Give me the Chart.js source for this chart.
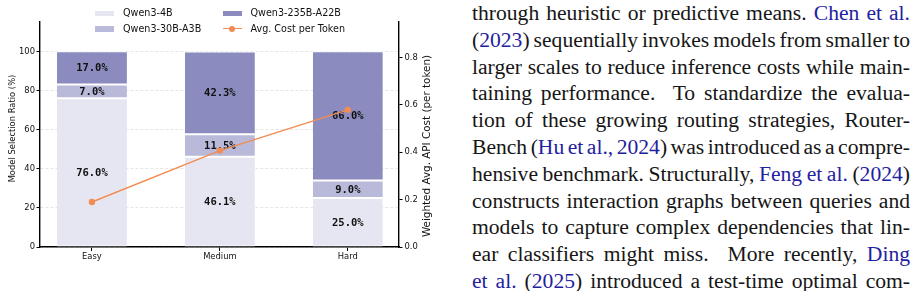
<!DOCTYPE html>
<html><head><meta charset="utf-8">
<script src="https://cdn.jsdelivr.net/npm/chart.js@4"></script>
<style>
html,body{margin:0;padding:0;background:#fff;}
#wrap{position:relative;width:917px;height:291px;overflow:hidden;background:#fff;}
#chartBox{position:absolute;left:0;top:0;width:440px;height:291px;}
#legend{position:absolute;left:0;top:0;width:440px;height:40px;font-family:"DejaVu Sans",sans-serif;font-size:9.6px;color:#111;}
.li{position:absolute;height:12px;line-height:12px;white-space:nowrap;}
.sw{position:absolute;left:0;top:3.5px;width:19px;height:5.5px;}
.ln{position:absolute;left:0;top:5.5px;width:19px;height:1.4px;}
.dot{position:absolute;left:6.5px;top:3px;width:6px;height:6px;border-radius:50%;}
.lt{position:absolute;left:28px;top:0;}
#text{position:absolute;left:472px;top:0px;width:438px;font-family:"Liberation Serif","Times New Roman",serif;font-size:21.6px;line-height:26.8px;color:#161616;}
#text div{white-space:nowrap;height:26.8px;}
#text div span.w{display:inline-block;white-space:nowrap;}
.c{color:#1f22a0;}
</style>
</head><body>
<div id="wrap">
  <div id="chartBox"><canvas id="c" width="440" height="291"></canvas></div>
  <div id="legend"></div>
  <div id="text">
    <div>through heuristic or predictive means. <span class="c">Chen et al.</span></div>
    <div>(<span class="c">2023</span>) sequentially invokes models from smaller to</div>
    <div>larger scales to reduce inference costs while main-</div>
    <div>taining performance.&nbsp; To standardize the evalua-</div>
    <div>tion of these growing routing strategies, Router-</div>
    <div>Bench (<span class="c">Hu et al., 2024</span>) was introduced as a compre-</div>
    <div>hensive benchmark. Structurally, <span class="c">Feng et al.</span> (<span class="c">2024</span>)</div>
    <div>constructs interaction graphs between queries and</div>
    <div>models to capture complex dependencies that lin-</div>
    <div>ear classifiers might miss.&nbsp; More recently, <span class="c">Ding</span></div>
    <div><span class="c">et al.</span> (<span class="c">2025</span>) introduced a test-time optimal com-</div>
  </div>
</div>
<script>
const categories = ['Easy', 'Medium', 'Hard'];
const qwen4b = [76.0, 46.1, 25.0];
const qwen30b = [7.0, 11.5, 9.0];
const qwen235b = [17.0, 42.3, 66.0];
const avgCost = [0.19, 0.407, 0.579];
const leftTicks = [0, 20, 40, 60, 80, 100];
const rightTicks = [0.0, 0.2, 0.4, 0.6, 0.8];
const seriesNames = ['Qwen3-4B', 'Qwen3-30B-A3B', 'Qwen3-235B-A22B', 'Avg. Cost per Token'];
const leftTitle = 'Model Selection Ratio (%)';
const rightTitle = 'Weighted Avg. API Cost (per token)';

const colors = ['#e6e6f2', '#b9b9da', '#8b8bbf'];
const lineColor = '#f28c52';
const FONT = '"DejaVu Sans", sans-serif';

// justify each text line to the column width by adjusting word spacing
(function justify() {
  const W = 438;
  document.querySelectorAll('#text div').forEach(div => {
    const range = document.createRange();
    range.selectNodeContents(div);
    const w = range.getBoundingClientRect().width;
    const spaces = (div.textContent.match(/[ \u00a0]/g) || []).length;
    if (spaces > 0) div.style.wordSpacing = ((W - w) / spaces) + 'px';
  });
})();

// HTML legend (two columns)
const legendLayout = [
  {name: seriesNames[0], left: 95, top: 7, kind: 'bar', color: colors[0]},
  {name: seriesNames[1], left: 95, top: 22.5, kind: 'bar', color: colors[1]},
  {name: seriesNames[2], left: 222.5, top: 7, kind: 'bar', color: colors[2]},
  {name: seriesNames[3], left: 222.5, top: 22.5, kind: 'line', color: lineColor}
];
const lg = document.getElementById('legend');
legendLayout.forEach(it => {
  const d = document.createElement('div');
  d.className = 'li';
  d.style.left = it.left + 'px';
  d.style.top = it.top + 'px';
  if (it.kind === 'bar') {
    d.innerHTML = '<span class="sw" style="background:' + it.color + '"></span>';
  } else {
    d.innerHTML = '<span class="ln" style="background:' + it.color + '"></span><span class="dot" style="background:' + it.color + '"></span>';
  }
  const t = document.createElement('span');
  t.className = 'lt';
  t.textContent = it.name;
  d.appendChild(t);
  lg.appendChild(d);
});

const toXY = arr => arr.map((v, i) => ({x: i, y: v}));
const barSets = [qwen4b, qwen30b, qwen235b];

const labelPlugin = {
  id: 'barLabels',
  beforeDatasetDraw(chart, args) {
    if (args.index !== 0) return;
    const ctx = chart.ctx;
    ctx.save();
    ctx.font = 'bold 10.5px "DejaVu Sans Mono", monospace';
    ctx.fillStyle = '#111';
    ctx.textAlign = 'center';
    ctx.textBaseline = 'middle';
    for (let d = 1; d <= 3; d++) {
      const meta = chart.getDatasetMeta(d);
      meta.data.forEach((el, i) => {
        const p = el.getProps(['x', 'y', 'base'], true);
        const v = barSets[d - 1][i];
        ctx.fillText(v.toFixed(1) + '%', p.x, (p.y + p.base) / 2 + 0.5);
      });
    }
    ctx.restore();
  },
  afterDraw(chart) {
    const ctx = chart.ctx;
    ctx.save();
    ctx.fillStyle = '#111';
    ctx.textAlign = 'center';
    ctx.textBaseline = 'middle';
    ctx.font = '8.4px ' + FONT;
    ctx.translate(12.7, 128.5);
    ctx.rotate(-Math.PI / 2);
    ctx.fillText(leftTitle, 0, 0);
    ctx.restore();
    ctx.save();
    ctx.fillStyle = '#111';
    ctx.textAlign = 'center';
    ctx.textBaseline = 'middle';
    ctx.font = '10.4px ' + FONT;
    ctx.translate(427, 146);
    ctx.rotate(-Math.PI / 2);
    ctx.fillText(rightTitle, 0, 0);
    ctx.restore();
  }
};

const tickFont = {family: FONT, size: 8.4};

new Chart(document.getElementById('c'), {
  type: 'bar',
  data: {
    datasets: [
      {
        type: 'line', label: seriesNames[3], data: toXY(avgCost), yAxisID: 'y2',
        borderColor: lineColor, backgroundColor: lineColor, borderWidth: 1.4,
        pointRadius: 3.2, pointBorderWidth: 0, pointBackgroundColor: lineColor, order: 0, fill: false
      },
      ...barSets.map((arr, k) => ({
        label: seriesNames[k], data: toXY(arr), yAxisID: 'y', stack: 's',
        backgroundColor: colors[k], borderColor: '#ffffff',
        borderWidth: {top: 1, bottom: 1, left: 0, right: 0}, borderSkipped: false,
        categoryPercentage: 1, barPercentage: 0.547, order: 1
      }))
    ]
  },
  options: {
    responsive: false, animation: false, devicePixelRatio: 1,
    layout: {padding: {top: 22, left: 0, right: 0, bottom: 0}},
    plugins: {legend: {display: false}, tooltip: {enabled: false}},
    scales: {
      x: {
        type: 'linear', min: -0.406, max: 2.4, stacked: true, offset: false,
        afterBuildTicks: s => { s.ticks = categories.map((c, i) => ({value: i})); },
        afterFit: s => { s.height = 44; },
        ticks: {callback: v => categories[Math.round(v)], font: tickFont, color: '#111', padding: 1, maxRotation: 0, autoSkip: false},
        grid: {offset: false, drawOnChartArea: false, drawTicks: true, tickLength: 4, tickColor: '#000', tickWidth: 1},
        border: {display: true, color: '#000', width: 1.4}
      },
      y: {
        position: 'left', min: 0, max: 115, stacked: true,
        afterBuildTicks: s => { s.ticks = leftTicks.map(v => ({value: v})); },
        afterFit: s => { s.width = 40; },
        ticks: {font: tickFont, color: '#111', padding: 1.5, callback: v => String(v)},
        grid: {color: '#dedede', lineWidth: 0.8, drawOnChartArea: true, drawTicks: true, tickLength: 3.5, tickColor: '#000', tickWidth: 1, tickBorderDash: []},
        border: {display: true, color: '#000', width: 1.4, dash: [3, 2]}
      },
      y2: {
        position: 'right', min: 0, max: 0.95,
        afterBuildTicks: s => { s.ticks = rightTicks.map(v => ({value: v})); },
        afterFit: s => { s.width = 41; },
        ticks: {font: tickFont, color: '#111', padding: 2, callback: v => v.toFixed(1)},
        grid: {drawOnChartArea: false, drawTicks: true, tickLength: 3.5, tickColor: '#000', tickWidth: 1},
        border: {display: true, color: '#000', width: 1.4}
      }
    }
  },
  plugins: [labelPlugin]
});
</script>
</body></html>
